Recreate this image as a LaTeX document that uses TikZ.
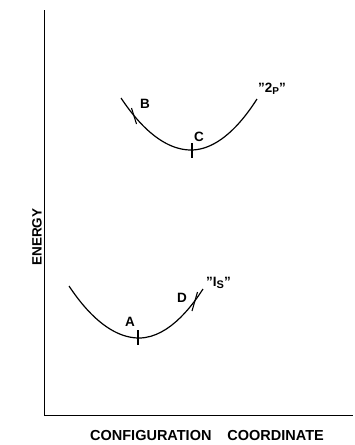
\documentclass[tikz,border=0pt]{standalone}
\usepackage{fontspec}
\setmainfont{Liberation Sans}
\usetikzlibrary{positioning,calc}

\begin{document}
\begin{tikzpicture}[
  x=1pt,y=-1pt,
  curve/.style={line width=1.2pt},
  axis/.style={line width=1.0pt},
  tick/.style={line width=1.1pt},
  lbl/.style={font=\fontsize{13.5}{14}\selectfont\bfseries,inner sep=0pt},
  axlbl/.style={font=\fontsize{13.5}{14}\selectfont\bfseries,inner sep=0pt},
]
  \useasboundingbox (0,0) rectangle (354,445);

  % axes
  \coordinate (top)    at (44,10);
  \coordinate (origin) at (44,415);
  \coordinate (right)  at (353,415);
  \draw[axis] (top) -- (origin) -- (right);

  \node[axlbl,rotate=90] (energy) at (37,237) {ENERGY};
  \node[axlbl,font=\fontsize{14.5}{15}\selectfont\bfseries] (config) at (207,436)
    {CONFIGURATION\hspace{1.1em}COORDINATE};

  % upper curve "2p"
  \draw[curve] (121,98) parabola bend (191,150) (257,99);
  \draw[tick] (131.5,108) -- (136.5,124);
  \draw[tick] (192,143) -- (192,158);
  \node[lbl] (blbl) at (145,104) {B};
  \node[lbl] (clbl) at (199,137) {C};
  \node[lbl,anchor=west] (twop) at (258,89) {"2\raisebox{-0.3ex}{\fontsize{10}{11}\selectfont P}"};

  % lower curve "1s"
  \draw[curve] (69,286) parabola bend (139,338) (203,289);
  \draw[tick] (138,330) -- (138,345);
  \draw[tick] (197.5,292) -- (192,311);
  \node[lbl] (albl) at (130,322) {A};
  \node[lbl] (dlbl) at (182,298) {D};
  \node[lbl,anchor=west] (ones) at (206,283) {"I\raisebox{-0.3ex}{\fontsize{11}{12}\selectfont S}"};
\end{tikzpicture}
\end{document}
